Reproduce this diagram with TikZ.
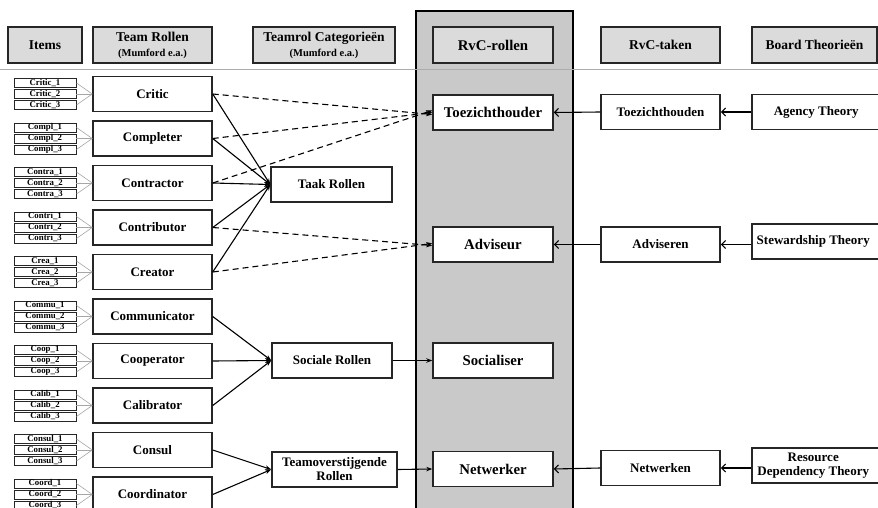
\documentclass[tikz,border=0pt]{standalone}
\usepackage{fontspec}
\setmainfont{Liberation Serif}
\usetikzlibrary{arrows.meta}
\definecolor{hdrfill}{gray}{0.86}
\definecolor{colfill}{gray}{0.79}
\definecolor{boxline}{gray}{0.15}
\tikzset{
  hdr/.style={draw=boxline, line width=1.5pt, fill=hdrfill, minimum height=36pt, inner sep=0pt, align=center, font=\fontsize{13.5}{14}\selectfont\bfseries},
  rolebox/.style={draw=boxline, line width=1.5pt, fill=white, minimum width=119pt, minimum height=35pt, inner sep=0pt, align=center, font=\fontsize{13}{14}\selectfont\bfseries},
  rvcbox/.style={rolebox, minimum width=120pt, font=\fontsize{14.8}{15}\selectfont\bfseries},
  itembox/.style={draw=boxline, line width=0.9pt, fill=white, minimum width=62pt, minimum height=9pt, inner sep=0pt, font=\fontsize{8.8}{9}\selectfont\bfseries},
  itemline/.style={draw=gray!70, line width=0.6pt},
  solidarrow/.style={draw=black, line width=1.1pt, -{Stealth[length=6pt,width=4.5pt]}},
  dasharrow/.style={solidarrow, dash pattern=on 6pt off 4pt},
  openarrow/.style={draw=black, line width=1.1pt, -{Straight Barb[length=4pt,width=8pt]}}
}
\begin{document}
\begin{tikzpicture}[x=1pt,y=-1pt]
\useasboundingbox (0,0) rectangle (878,508);
\fill[white] (0,0) rectangle (878,508);
% grey RvC column
\path[fill=colfill, draw=black, line width=2.4pt] (416,11) rectangle (573,530);
% separator line
\draw[gray!65, line width=1pt] (0,70) -- (878,70);
% headers
\node[hdr, minimum width=74pt] (hItems) at (45,45) {Items};
\node[hdr, minimum width=119pt] (hTeam) at (152.5,45) {Team Rollen\\[1pt]{\fontsize{10.5}{11}\selectfont (Mumford e.a.)}};
\node[hdr, minimum width=142pt] (hCat) at (324,45) {Teamrol Categorieën\\[1pt]{\fontsize{10.5}{11}\selectfont (Mumford e.a.)}};
\node[hdr, minimum width=120pt, font=\fontsize{14.8}{15}\selectfont\bfseries] (hRvC) at (493,45) {RvC-rollen};
\node[hdr, minimum width=119pt] (hTaken) at (660.5,45) {RvC-taken};
\node[hdr, minimum width=125pt] (hBoard) at (814.5,45) {Board Theorieën};
% team roles and items
\foreach \name/\lab/\pre [count=\i from 0] in {critic/Critic/Critic, compl/Completer/Compl, contra/Contractor/Contra, contri/Contributor/Contri, crea/Creator/Crea, commu/Communicator/Commu, coop/Cooperator/Coop, calib/Calibrator/Calib, consul/Consul/Consul, coord/Coordinator/Coord}{
  \pgfmathsetmacro{\cy}{94+44.5*\i}
  \node[rolebox] (\name) at (152.5,\cy) {\lab};
  \node[itembox] (\name a) at (45,\cy-11) {\pre\_1};
  \node[itembox] (\name b) at (45,\cy) {\pre\_2};
  \node[itembox] (\name c) at (45,\cy+11) {\pre\_3};
  \draw[itemline] (\name a.east) -- (\name.west);
  \draw[itemline] (\name b.east) -- (\name.west);
  \draw[itemline] (\name c.east) -- (\name.west);
}
% categories
\node[rolebox, minimum width=121pt] (taak) at (331.5,184.5) {Taak Rollen};
\node[rolebox, minimum width=120pt] (sociale) at (332,360.5) {Sociale Rollen};
\node[rolebox, minimum width=125pt, font=\fontsize{13}{14}\selectfont\bfseries] (teamov) at (334.5,469.5) {Teamoverstijgende\\Rollen};
% RvC roles
\node[rvcbox] (toez) at (493,112.5) {Toezichthouder};
\node[rvcbox] (advi) at (493,244.5) {Adviseur};
\node[rvcbox] (soci) at (493,360.5) {Socialiser};
\node[rvcbox] (netw) at (493,469) {Netwerker};
% RvC tasks
\node[rolebox] (toezt) at (660.5,112) {Toezichthouden};
\node[rolebox] (advt) at (660.5,244.5) {Adviseren};
\node[rolebox] (netwt) at (660.5,468) {Netwerken};
% theories
\node[rolebox, minimum width=131pt, anchor=west] (agency) at (751,112) {\hspace*{-1pt}Agency Theory\hspace*{1pt}};
\node[rolebox, minimum width=131pt, anchor=west] (steward) at (751,241.5) {\hspace*{-4pt}Stewardship Theory\hspace*{4pt}};
\node[rolebox, minimum width=131pt, anchor=west, font=\fontsize{13}{14}\selectfont\bfseries] (resource) at (751,465.5) {\hspace*{-4pt}Resource\hspace*{4pt}\\\hspace*{-4pt}Dependency Theory\hspace*{4pt}};
% task roles
\foreach \r in {critic, compl, contra, contri, crea}{
  \draw[solidarrow] (\r.east) -- (taak.west);
}
\draw[dasharrow] (critic.east) -- ([yshift=-2pt]toez.west);
\draw[dasharrow] (compl.east) -- (toez.west);
\draw[dasharrow] (contra.east) -- ([yshift=2pt]toez.west);
\draw[dasharrow] (contri.east) -- ([yshift=-1pt]advi.west);
\draw[dasharrow] (crea.east) -- ([yshift=1pt]advi.west);
% social roles
\foreach \r in {commu, coop, calib}{
  \draw[solidarrow] (\r.east) -- (sociale.west);
}
\foreach \r in {consul, coord}{
  \draw[solidarrow] (\r.east) -- (teamov.west);
}
\draw[solidarrow] (sociale.east) -- (soci.west);
\draw[solidarrow] (teamov.east) -- (netw.west);
% right side
\draw[openarrow] (agency.west) -- (toezt.east);
\draw[openarrow] (toezt.west) -- (toez.east);
\draw[openarrow] (steward.west |- advt.east) -- (advt.east);
\draw[openarrow] (advt.west) -- (advi.east);
\draw[openarrow] (resource.west |- netwt.east) -- (netwt.east);
\draw[openarrow] (netwt.west) -- (netw.east);
\end{tikzpicture}
\end{document}
